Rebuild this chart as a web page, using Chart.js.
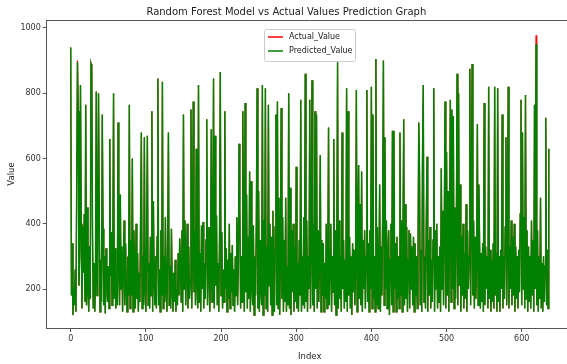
<!DOCTYPE html>
<html>
<head>
<meta charset="utf-8">
<script src="https://cdn.jsdelivr.net/npm/chart.js@4.4.0/dist/chart.umd.min.js"></script>
<style>
  html, body { margin: 0; padding: 0; background: #fff; overflow: hidden; }
  #wrap { width: 580px; height: 364px; }
</style>
</head>
<body>
<div id="wrap"><canvas id="myChart" width="580" height="364"></canvas></div>
<script>
// values, index 0..636
const actualValues = [
  940,180,340,120,200,150,260,130,520,900, 745,210,310,825,400,140,390,250,430,160,
  765,150,450,200,130,330,170,890,880,370, 140,280,130,230,805,180,330,800,425,130,
  290,160,735,385,150,300,125,325,210,160, 270,140,660,240,375,150,290,800,170,325,
  140,220,150,710,260,150,490,200,330,130, 280,410,150,340,200,130,300,180,765,140,
  350,180,600,130,380,260,140,400,170,310, 130,250,160,420,680,140,300,150,665,200,
  130,350,670,150,280,140,360,180,745,130, 470,220,150,300,140,360,845,150,260,130,
  380,180,835,140,300,160,420,200,130,330, 680,150,270,140,385,210,130,250,160,290,
  130,200,150,310,180,355,290,160,380,130, 735,200,410,150,270,400,140,330,170,230,
  750,140,300,775,190,380,150,630,220,140, 825,160,310,130,395,200,405,140,280,170,
  350,720,150,260,390,130,240,690,160,300, 845,140,670,210,425,150,280,130,360,865,
  180,375,140,260,160,745,200,325,130,290, 170,400,140,310,190,335,150,260,130,300,
  180,420,150,280,645,450,140,300,160,745, 220,130,770,190,490,140,360,170,560,130,
  530,210,150,395,120,300,180,420,815,140, 500,130,350,200,150,825,120,410,180,815,
  140,330,130,765,210,400,150,360,120,440, 200,130,390,735,150,775,140,480,120,300,
  755,170,420,130,350,160,480,130,270,150, 800,140,510,120,380,190,400,130,330,160,
  575,140,280,130,350,180,780,130,300,150, 420,140,860,160,410,130,300,200,780,140,
  330,840,150,400,130,745,200,735,140,380, 160,300,610,130,350,180,340,130,280,170,
  400,140,260,695,150,320,400,130,300,190, 660,150,380,120,310,895,140,410,170,300,
  130,680,200,350,140,290,160,815,130,745, 180,360,140,300,120,340,190,320,150,280,
  810,130,400,580,170,460,150,560,130,350, 200,380,140,300,810,160,340,130,380,200,
  820,140,735,170,300,130,905,150,390,140, 250,520,130,330,180,440,900,150,665,200,
  410,140,300,380,120,290,400,150,685,130, 685,200,340,130,360,170,300,140,680,180,
  410,130,350,720,150,460,170,390,130,290, 380,140,370,200,330,150,360,130,340,180,
  300,140,280,710,560,150,320,130,600,825, 160,300,140,400,605,130,350,180,390,140,
  290,160,350,815,130,380,200,400,140,300, 160,330,130,570,200,440,150,400,775,140,
  620,180,500,130,380,780,160,750,200,730, 140,450,170,380,860,150,800,210,520,130,
  360,180,400,140,310,170,460,130,380,200, 300,875,150,420,890,180,410,140,360,170,
  300,705,150,520,330,140,310,160,340,130, 770,150,330,200,300,140,820,170,320,130,
  290,160,340,140,820,180,310,130,815,160, 300,130,320,200,735,140,300,170,390,665,
  150,350,820,140,330,200,410,150,360,180, 400,130,330,170,300,140,320,190,430,780,
  150,680,200,420,140,795,170,380,130,330, 160,300,140,410,180,350,130,765,200,978,
  150,380,130,300,170,480,140,280,130,300, 160,270,725,150,320,140,630
];
const predictedValues = [
  940,180,340,120,200,150,260,130,520,895, 745,210,310,825,400,140,390,250,430,160,
  765,150,450,200,130,330,170,890,880,370, 140,280,130,230,805,180,330,800,425,130,
  290,160,735,385,150,300,125,325,210,160, 270,140,660,240,375,150,290,800,170,325,
  140,220,150,710,260,150,490,200,330,130, 280,410,150,340,200,130,300,180,765,140,
  350,180,600,130,380,260,140,400,170,310, 130,250,160,420,680,140,300,150,665,200,
  130,350,670,150,280,140,360,180,745,130, 470,220,150,300,140,360,845,150,260,130,
  380,180,835,140,300,160,420,200,130,330, 680,150,270,140,385,210,130,250,160,290,
  130,200,150,310,180,355,290,160,380,130, 735,200,410,150,270,400,140,330,170,230,
  750,140,300,775,190,380,150,630,220,140, 825,160,310,130,395,200,405,140,280,170,
  350,720,150,260,390,130,240,690,160,300, 845,140,670,210,425,150,280,130,360,865,
  180,375,140,260,160,745,200,325,130,290, 170,400,140,310,190,335,150,260,130,300,
  180,420,150,280,645,450,140,300,160,745, 220,130,770,190,490,140,360,170,560,130,
  530,210,150,395,120,300,180,420,815,140, 500,130,350,200,150,825,120,410,180,815,
  140,330,130,765,210,400,150,360,120,440, 200,130,390,735,150,775,140,480,120,300,
  755,170,420,130,350,160,480,130,270,150, 800,140,510,120,380,190,400,130,330,160,
  575,140,280,130,350,180,780,130,300,150, 420,140,860,160,410,130,300,200,780,140,
  330,840,150,400,130,745,200,735,140,380, 160,300,610,130,350,180,340,130,280,170,
  400,140,260,695,150,320,400,130,300,190, 660,150,380,120,310,895,140,410,170,300,
  130,680,200,350,140,290,160,815,130,745, 180,360,140,300,120,340,190,320,150,280,
  810,130,400,580,170,460,150,560,130,350, 200,380,140,300,810,160,340,130,380,200,
  820,140,735,170,300,130,905,150,390,140, 250,520,130,330,180,440,900,150,665,200,
  410,140,300,380,120,290,400,150,685,130, 685,200,340,130,360,170,300,140,680,180,
  410,130,350,720,150,460,170,390,130,290, 380,140,370,200,330,150,360,130,340,180,
  300,140,280,710,560,150,320,130,600,825, 160,300,140,400,605,130,350,180,390,140,
  290,160,350,815,130,380,200,400,140,300, 160,330,130,570,200,440,150,400,775,140,
  620,180,500,130,380,780,160,750,200,730, 140,450,170,380,860,150,800,210,520,130,
  360,180,400,140,310,170,460,130,380,200, 300,875,150,420,890,180,410,140,360,170,
  300,705,150,520,330,140,310,160,340,130, 770,150,330,200,300,140,820,170,320,130,
  290,160,340,140,820,180,310,130,815,160, 300,130,320,200,735,140,300,170,390,665,
  150,350,820,140,330,200,410,150,360,180, 400,130,330,170,300,140,320,190,430,780,
  150,680,200,420,140,795,170,380,130,330, 160,300,140,410,180,350,130,765,200,950,
  150,380,130,300,170,480,140,280,130,300, 160,270,725,150,320,140,630
];
const xTicks = [0, 100, 200, 300, 400, 500, 600];
const yTicks = [200, 400, 600, 800, 1000];

const FONT = "'DejaVu Sans', sans-serif";
const AXIS = "#555";
const toPoints = (vals) => vals.map((v, i) => ({ x: i, y: v }));

// legend box drawn inside the plot, like matplotlib's "upper center"
const legendBox = {
  id: "legendBox",
  afterDraw(chart) {
    const ctx = chart.ctx;
    const bx = 264, by = 29, bw = 91, bh = 32;
    ctx.save();
    ctx.fillStyle = "rgba(255,255,255,0.85)";
    ctx.strokeStyle = "#ccc";
    ctx.lineWidth = 1;
    ctx.beginPath();
    ctx.roundRect(bx + 0.5, by + 0.5, bw, bh, 2);
    ctx.fill();
    ctx.stroke();
    ctx.font = "8px " + FONT;
    ctx.textBaseline = "middle";
    chart.data.datasets.forEach((ds, i) => {
      const y = by + 8 + i * 14;
      ctx.strokeStyle = ds.borderColor;
      ctx.lineWidth = 1.5;
      ctx.beginPath();
      ctx.moveTo(bx + 4, y);
      ctx.lineTo(bx + 19, y);
      ctx.stroke();
      ctx.fillStyle = "#222";
      ctx.fillText(ds.label, bx + 25, y);
    });
    ctx.restore();
  }
};

// empty axes on top/right just to close the frame
const frameAxis = (position, axis) => ({
  type: "linear",
  position: position,
  axis: axis,
  min: 0,
  max: 1,
  ticks: { display: false },
  grid: { display: false, drawTicks: false },
  border: { display: true, color: AXIS },
  afterFit: (s) => { if (axis === "x") s.height = 0; else s.width = 0; },
});

new Chart("myChart", {
  type: "line",
  data: {
    datasets: [
      {
        label: "Actual_Value",
        data: toPoints(actualValues),
        borderColor: "red",
        borderWidth: 1.2,
        pointRadius: 0,
        fill: false,
        tension: 0,
        order: 2,
      },
      {
        label: "Predicted_Value",
        data: toPoints(predictedValues),
        borderColor: "green",
        borderWidth: 1.5,
        pointRadius: 0,
        fill: false,
        tension: 0,
        order: 1,
      },
    ],
  },
  options: {
    responsive: false,
    animation: false,
    layout: { padding: { left: 0, right: 7.3, top: 0, bottom: 0 } },
    plugins: {
      legend: { display: false },
      tooltip: { enabled: false },
      title: {
        display: true,
        text: "Random Forest Model vs Actual Values Prediction Graph",
        color: "#222",
        font: { family: FONT, size: 10, weight: "normal" },
        padding: { top: 6, bottom: 2 },
      },
    },
    scales: {
      x: {
        type: "linear",
        min: -31.8,
        max: 667.8,
        afterBuildTicks: (s) => { s.ticks = xTicks.map((v) => ({ value: v })); },
        afterFit: (s) => { s.height = 36; },
        ticks: {
          color: "#333", font: { family: FONT, size: 8 }, padding: 2, maxRotation: 0,
          callback: (v) => String(v),
        },
        grid: { display: true, drawOnChartArea: false, drawTicks: true, tickLength: 4, color: AXIS },
        border: { display: true, color: AXIS },
        title: {
          display: true, text: "Index", color: "#222",
          font: { family: FONT, size: 8.5 }, padding: { top: 0, bottom: 2.6 },
        },
      },
      y: {
        min: 80.5,
        max: 1024.5,
        afterBuildTicks: (s) => { s.ticks = yTicks.map((v) => ({ value: v })); },
        afterFit: (s) => { s.width = 46.8; },
        ticks: {
          color: "#333", font: { family: FONT, size: 8 }, padding: 2,
          callback: (v) => String(v),
        },
        grid: { display: true, drawOnChartArea: false, drawTicks: true, tickLength: 4, color: AXIS },
        border: { display: true, color: AXIS },
        title: {
          display: true, text: "Value", color: "#222",
          font: { family: FONT, size: 8.5 }, padding: { top: 6.6, bottom: 0 },
        },
      },
      xTop: frameAxis("top", "x"),
      yRight: frameAxis("right", "y"),
    },
  },
  plugins: [legendBox],
});
</script>
</body>
</html>
